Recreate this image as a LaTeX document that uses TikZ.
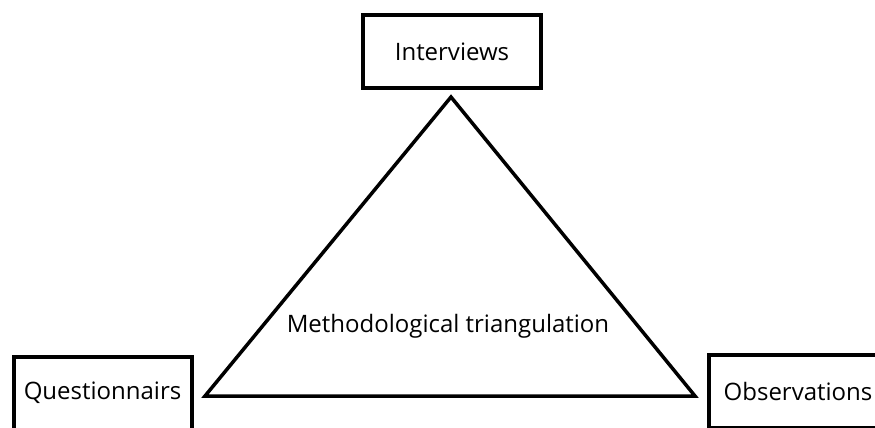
\documentclass[tikz,border=0pt]{standalone}
\usepackage{fontspec}
\setmainfont{Open Sans}
\usepackage{tikz}
\usetikzlibrary{positioning,calc}

\begin{document}
\begin{tikzpicture}[
  x=1pt, y=-1pt,
  method/.style={draw=black, line width=4pt, minimum width=178pt,
    minimum height=73pt, align=center, font=\fontsize{24}{28}\selectfont, inner sep=0pt},
  edge/.style={line width=3.5pt, draw=black, line join=miter}
]
\useasboundingbox (0,0) rectangle (875,428);

\node[method] (interviews) at (452,51.5) {Interviews};
\node[method] (questionnairs) at (102.5,393) {Questionnairs};
\node[method] (observations) at (798,391.5) {Observations};

% triangle corners
\coordinate (apex) at (451,97);
\coordinate (left) at (205,396);
\coordinate (right) at (695,396);

\draw[edge] (apex) -- (left) -- (right) -- cycle;

\node[font=\fontsize{24}{28}\selectfont] (centre) at (448,326) {Methodological triangulation};

\end{tikzpicture}
\end{document}
